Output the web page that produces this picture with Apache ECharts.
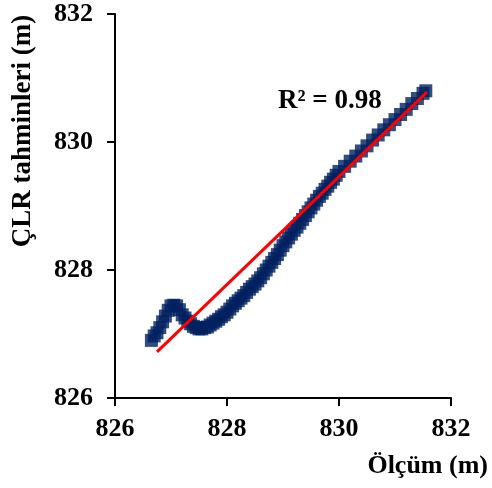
<!DOCTYPE html>
<html>
<head>
<meta charset="utf-8">
<script src="https://cdn.jsdelivr.net/npm/echarts@6/dist/echarts.min.js"></script>
<style>html,body{margin:0;padding:0;background:#fff;}#c{width:492px;height:488px;}</style>
</head>
<body>
<div id="c"></div>
<script>
// Measured (x) values, m
const measured = [826.65,826.7,826.75,826.8,826.85,826.9,826.95,827.0,827.05,827.1,827.15,827.2,827.25,827.3,827.35,827.4,827.45,827.5,827.55,827.6,827.65,827.7,827.75,827.8,827.85,827.9,827.95,828.0,828.05,828.1,828.15,828.2,828.25,828.3,828.35,828.4,828.45,828.5,828.55,828.6,828.65,828.7,828.75,828.8,828.85,828.9,828.95,829.0,829.05,829.1,829.15,829.2,829.25,829.3,829.35,829.4,829.45,829.5,829.55,829.6,829.65,829.7,829.75,829.8,829.85,829.9,829.95,830.0,830.1,830.2,830.3,830.4,830.5,830.6,830.7,830.8,830.9,831.0,831.1,831.2,831.3,831.4,831.5,831.55];
// CLR predictions (y), m
const predicted = [826.9,826.97,827.02,827.1,827.19,827.28,827.37,827.44,827.45,827.44,827.38,827.3,827.25,827.2,827.16,827.12,827.1,827.08,827.08,827.1,827.11,827.14,827.17,827.2,827.23,827.27,827.3,827.34,827.39,827.44,827.48,827.52,827.56,827.6,827.65,827.7,827.74,827.78,827.83,827.88,827.94,828.0,828.06,828.12,828.18,828.24,828.31,828.38,828.44,828.5,828.56,828.62,828.67,828.73,828.79,828.85,828.91,828.97,829.03,829.09,829.15,829.2,829.26,829.31,829.37,829.42,829.48,829.54,829.62,829.7,829.78,829.86,829.94,830.03,830.11,830.19,830.27,830.35,830.43,830.51,830.6,830.68,830.76,830.8];
// Trend line endpoints
const trendX = [826.75, 831.57];
const trendY = [826.72, 830.78];
const xTicks = [826, 828, 830, 832];
const yTicks = [826, 828, 830, 832];
const r2Label = 'R² = 0.98';
const xName = 'Ölçüm (m)';
const yName = 'ÇLR tahminleri (m)';

const pts = measured.map((x, i) => [x, predicted[i]]);
const trend = trendX.map((x, i) => [x, trendY[i]]);
const font = '"Liberation Serif", "Times New Roman", serif';

const chart = echarts.init(document.getElementById('c'), null, {renderer: 'canvas'});
chart.setOption({
  animation: false,
  backgroundColor: '#fff',
  grid: {left: 115, right: 41, top: 14, bottom: 90},
  xAxis: {
    type: 'value', min: xTicks[0], max: xTicks[xTicks.length-1], interval: 2,
    splitLine: {show: false},
    axisLine: {show: true, onZero: false, lineStyle: {color: '#000', width: 2}},
    axisTick: {show: true, length: 8, lineStyle: {color: '#000', width: 2}},
    axisLabel: {color: '#000', fontFamily: font, fontWeight: 'bold', fontSize: 26, margin: 18}
  },
  yAxis: {
    type: 'value', min: yTicks[0], max: yTicks[yTicks.length-1], interval: 2,
    splitLine: {show: false},
    axisLine: {show: true, onZero: false, lineStyle: {color: '#000', width: 2}},
    axisTick: {show: true, length: 8, lineStyle: {color: '#000', width: 2}},
    axisLabel: {color: '#000', fontFamily: font, fontWeight: 'bold', fontSize: 26, margin: 22}
  },
  series: [
    {type: 'scatter', data: pts, symbol: 'rect', symbolSize: 13,
     itemStyle: {color: '#002060'}, z: 2},
    {type: 'line', data: trend, showSymbol: false, symbol: 'none',
     lineStyle: {color: '#ff0000', width: 3}, z: 3}
  ],
  graphic: [
    {type: 'text', left: 278, top: 88, z: 10,
     style: {text: r2Label, fill: '#000', font: 'bold 27px ' + font}},
    {type: 'text', x: 488, y: 466, z: 10,
     style: {text: xName, fill: '#000', font: 'bold 26px ' + font, textAlign: 'right', textVerticalAlign: 'middle'}},
    {type: 'text', x: 23, y: 131, rotation: Math.PI/2, z: 10,
     style: {text: yName, fill: '#000', font: 'bold 27px ' + font, textAlign: 'center', textVerticalAlign: 'middle'}}
  ]
});
</script>
</body>
</html>
